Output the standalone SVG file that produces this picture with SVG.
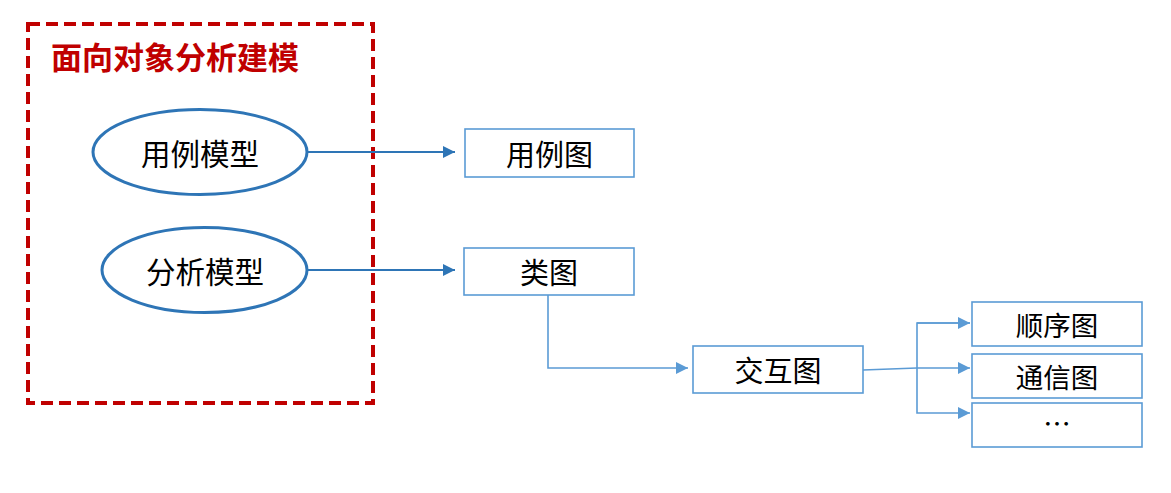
<svg xmlns="http://www.w3.org/2000/svg" width="1171" height="493" viewBox="0 0 1171 493">
<style>
.t{font-family:"Noto Sans CJK SC","Liberation Sans",sans-serif;fill:#000;text-anchor:middle;dominant-baseline:central}
.ell{fill:#fff;stroke:#2E75B6;stroke-width:3}
.box{fill:#fff;stroke:#5B9BD5;stroke-width:1.6}
.c1{fill:none;stroke:#2E75B6;stroke-width:2}
.c2{fill:none;stroke:#5B9BD5;stroke-width:1.6}
</style>
<defs>
<marker id="a1" viewBox="0 0 10 10" refX="10" refY="5" markerWidth="6" markerHeight="6" orient="auto" markerUnits="strokeWidth"><path d="M0,0 L10,5 L0,10 z" fill="#2E75B6"/></marker>
<marker id="a2" viewBox="0 0 10 10" refX="10" refY="5" markerWidth="7.5" markerHeight="7.5" orient="auto" markerUnits="strokeWidth"><path d="M0,0 L10,5 L0,10 z" fill="#5B9BD5"/></marker>
</defs>
<rect id="frame" x="28" y="24" width="345" height="379" fill="none" stroke="#C00000" stroke-width="4" stroke-dasharray="12 6"/>
<text x="51" y="55" font-family="'Noto Sans CJK SC','Liberation Sans',sans-serif" font-size="31" font-weight="bold" fill="#C00000" dominant-baseline="central">面向对象分析建模</text>
<g id="connectors">
<path class="c1" d="M307,152 L455,152" marker-end="url(#a1)"/>
<path class="c1" d="M307,270 L455,270" marker-end="url(#a1)"/>
<path class="c2" d="M548,295 L548,368 L688,368" marker-end="url(#a2)"/>
<path class="c2" d="M863,370 L917,368 L970,368" marker-end="url(#a2)"/>
<path class="c2" d="M970,323 L917,323 L917,413 L970,413" marker-end="url(#a2)"/>
<path class="c2" d="M917,323 L970,323" marker-end="url(#a2)"/>
</g>
<g id="n-usecase-model"><ellipse class="ell" cx="200" cy="152" rx="107" ry="42.5"/><text class="t" x="200" y="152" font-size="29.5">用例模型</text></g>
<g id="n-analysis-model"><ellipse class="ell" cx="204.5" cy="270" rx="102.5" ry="42.5"/><text class="t" x="205" y="270" font-size="29.5">分析模型</text></g>
<g id="n-usecase-diagram"><rect class="box" x="465" y="129" width="169" height="48"/><text class="t" x="549.5" y="153" font-size="29">用例图</text></g>
<g id="n-class-diagram"><rect class="box" x="464" y="248" width="170" height="47"/><text class="t" x="549" y="271" font-size="29">类图</text></g>
<g id="n-interaction"><rect class="box" x="693" y="346" width="170" height="47"/><text class="t" x="778" y="369" font-size="29">交互图</text></g>
<g id="n-sequence"><rect class="box" x="972" y="302" width="170" height="44"/><text class="t" x="1057" y="324" font-size="27.5">顺序图</text></g>
<g id="n-communication"><rect class="box" x="972" y="354" width="170" height="44"/><text class="t" x="1057" y="376" font-size="27.5">通信图</text></g>
<g id="n-more"><rect class="box" x="972" y="403" width="170" height="44"/><text class="t" x="1057" y="422" font-size="27.5">…</text></g>
</svg>
